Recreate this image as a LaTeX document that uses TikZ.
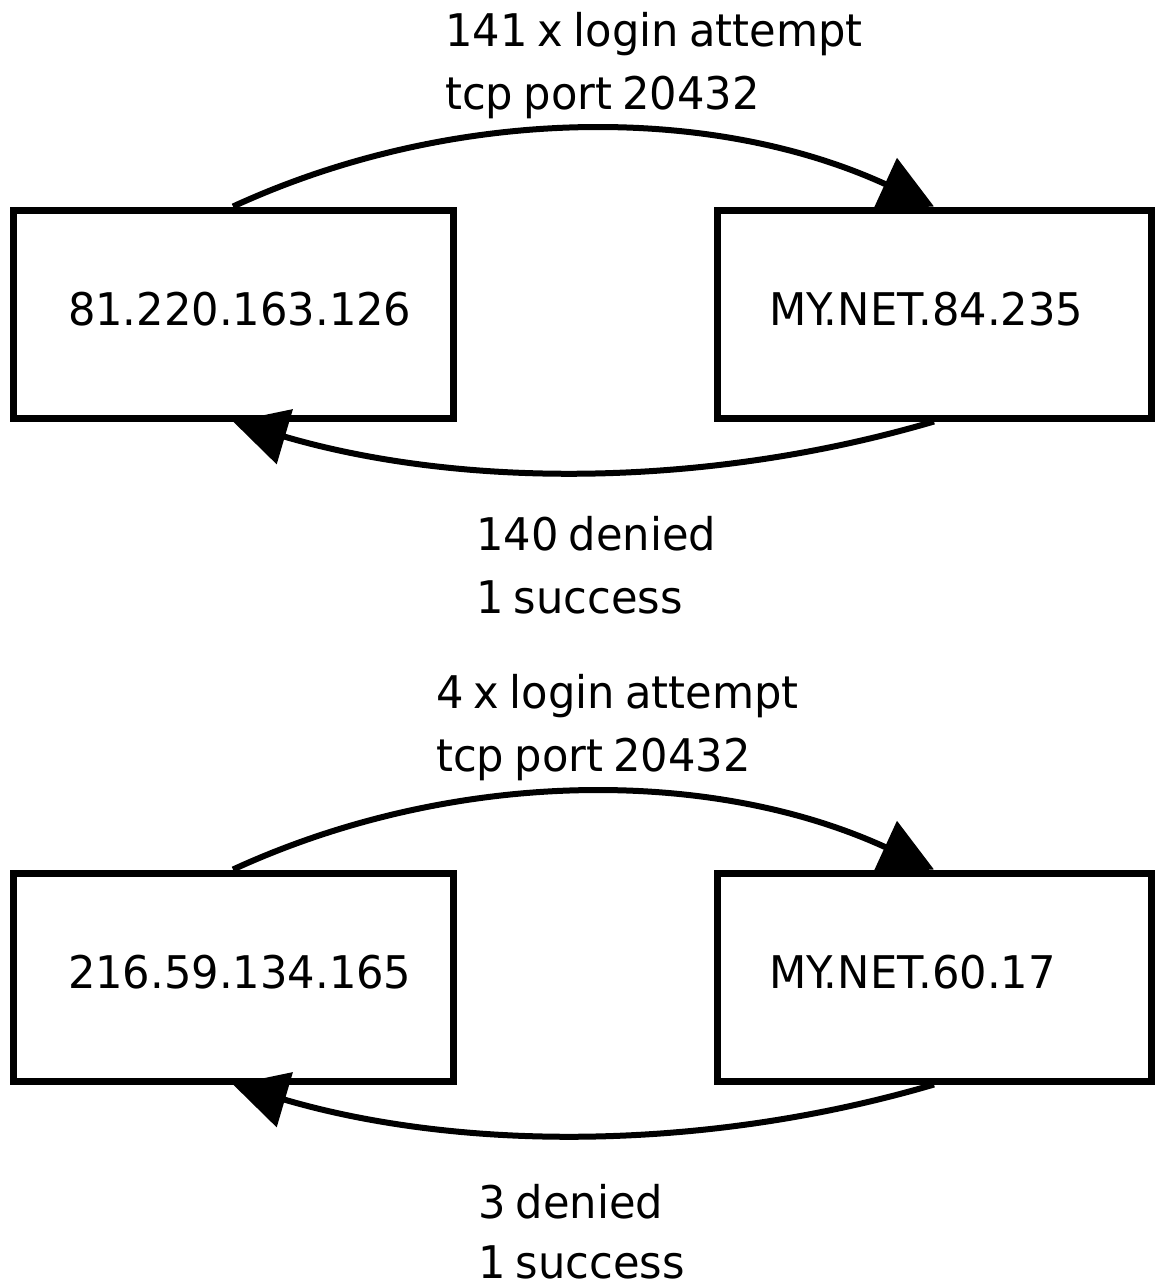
\documentclass[tikz,border=0pt]{standalone}
\usepackage{fontspec}
\usetikzlibrary{arrows.meta}
\newfontfamily\dvs[FakeStretch=0.96,WordSpace=0.75]{DejaVu Sans}

\tikzset{
  hostbox/.style={draw=black, fill=white, line width=7pt, rectangle,
    minimum height=208pt, text width=330pt, align=left,
    text height=33pt, text depth=11pt, inner sep=0pt,
    font=\dvs\fontsize{45}{64}\selectfont},
  leftbox/.style={hostbox, minimum width=440pt},
  rightbox/.style={hostbox, minimum width=434pt},
  flow/.style={line width=6pt, draw=black,
    -{Triangle[length=54pt,width=56pt]}},
  note/.style={anchor=north west, inner sep=0pt, align=left,
    font=\dvs\fontsize{45}{63}\selectfont}
}

\begin{document}
\begin{tikzpicture}[x=1pt,y=-1pt]
  \fill[white] (0,0) rectangle (1156,1287);
  \useasboundingbox (0,0) rectangle (1156,1287);

  % first session
  \node[leftbox]  (srcA) at (233,314) {81.220.163.126};
  \node[rightbox] (dstA) at (934,314) {MY.NET.84.235};
  \node[note] (reqA) at (445,12)  {141 x login attempt\\tcp port 20432};
  \node[note] (resA) at (476,516) {140 denied\\1 success};

  \draw[flow] (srcA.north) .. controls +(222,-102) and +(-222,-102) .. (dstA.north);
  \draw[flow] (dstA.south) .. controls +(-228,67) and +(228,67) .. (srcA.south);

  % second session
  \node[leftbox]  (srcB) at (233,977) {216.59.134.165};
  \node[rightbox] (dstB) at (934,977) {MY.NET.60.17};
  \node[note] (reqB) at (436,674)  {4 x login attempt\\tcp port 20432};
  \node[note] (resB) at (478,1184) {3 denied\\[-3pt]1 success};

  \draw[flow] (srcB.north) .. controls +(222,-102) and +(-222,-102) .. (dstB.north);
  \draw[flow] (dstB.south) .. controls +(-228,67) and +(228,67) .. (srcB.south);
\end{tikzpicture}
\end{document}
